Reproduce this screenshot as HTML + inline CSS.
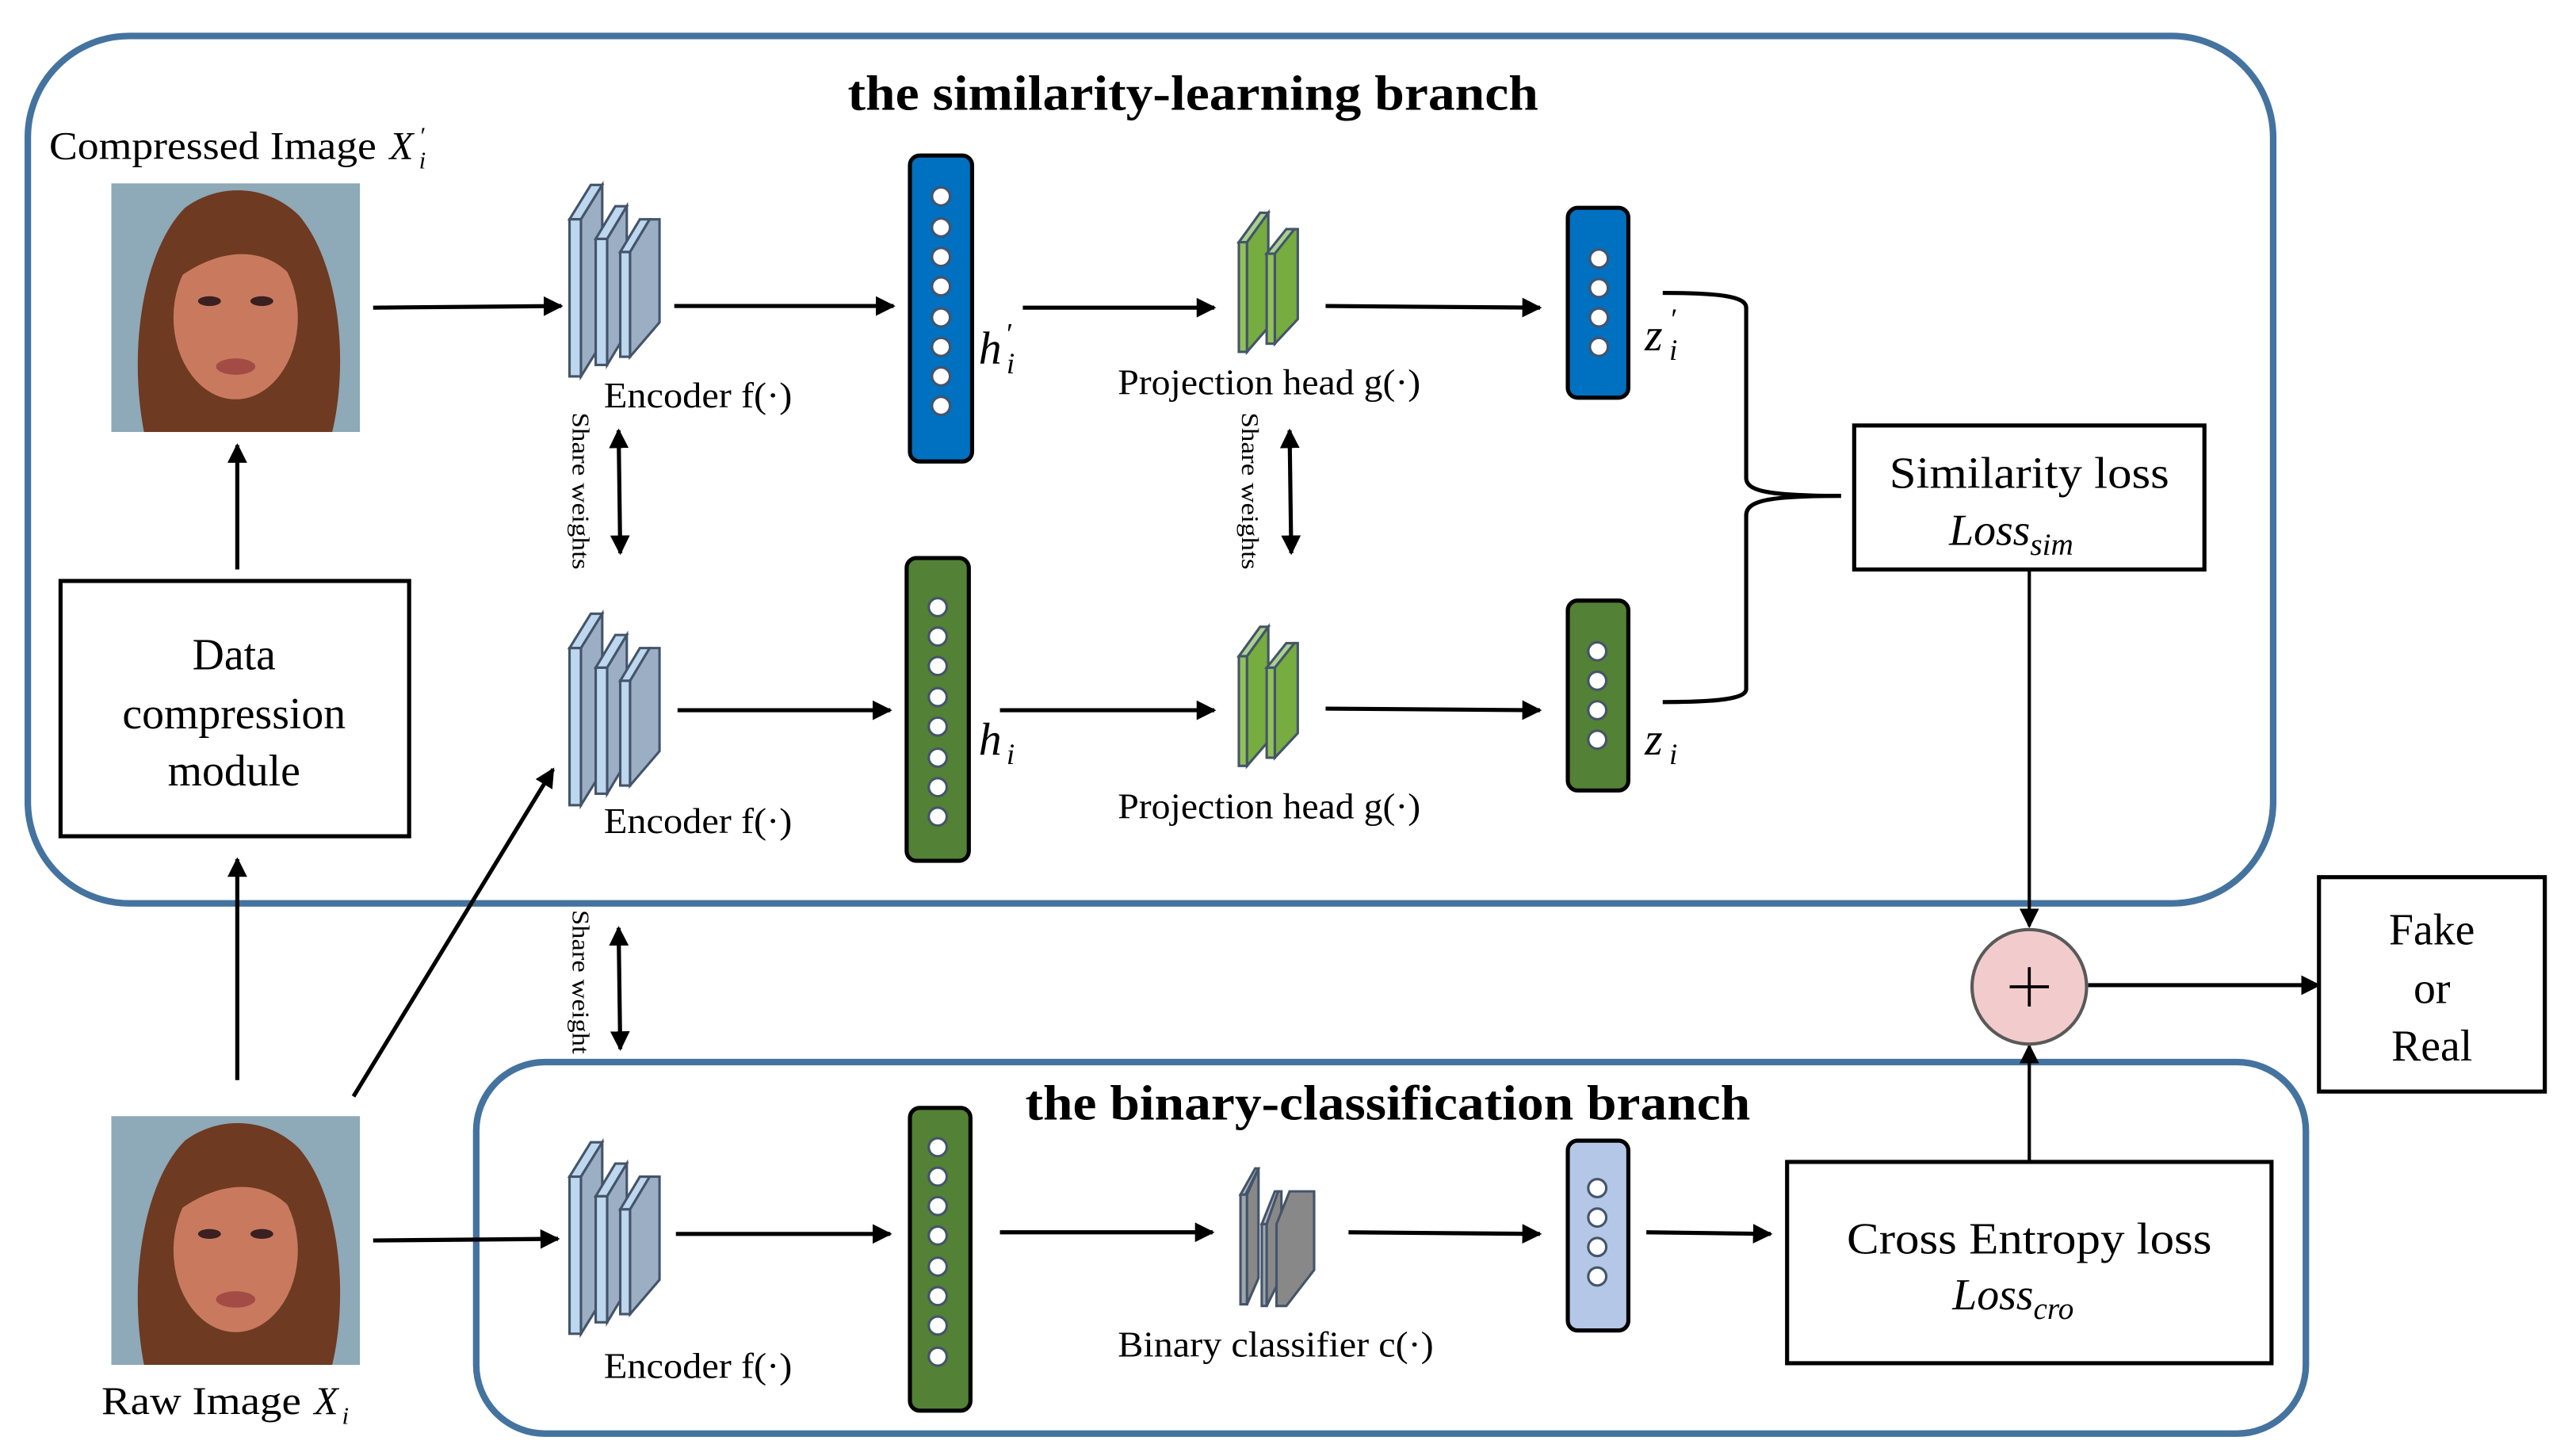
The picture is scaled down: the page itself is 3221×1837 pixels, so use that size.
<!DOCTYPE html>
<html><head><meta charset="utf-8"><style>html,body{margin:0;padding:0;background:#fff}svg{display:block}</style></head>
<body>
<svg xmlns="http://www.w3.org/2000/svg" width="3221" height="1837" viewBox="0 0 1560 889.7" font-family="Liberation Serif, serif">
<defs>
<marker id="ar" viewBox="0 0 10 10" refX="9" refY="5" markerWidth="5" markerHeight="5" orient="auto-start-reverse" markerUnits="userSpaceOnUse"><path d="M0,0 L10,5 L0,10 z" fill="#000"/></marker>
<marker id="a2" viewBox="0 0 10 10" refX="9" refY="5" markerWidth="12" markerHeight="12" orient="auto-start-reverse" markerUnits="userSpaceOnUse"><path d="M0,0 L10,5 L0,10 z" fill="#000"/></marker>
<symbol id="face" viewBox="0 0 152 152">
<rect width="152" height="152" fill="#8ea9b8"/>
<path d="M20,152 C10,100 20,40 45,15 C65,0 95,0 115,20 C140,50 145,110 135,152 Z" fill="#6e3a22"/>
<ellipse cx="76" cy="82" rx="38" ry="50" fill="#c97a5e"/>
<path d="M38,60 C40,25 70,18 90,22 C105,30 112,40 114,62 C100,40 70,35 38,60Z" fill="#6e3a22"/>
<ellipse cx="60" cy="72" rx="7" ry="3" fill="#3a2020"/><ellipse cx="92" cy="72" rx="7" ry="3" fill="#3a2020"/>
<ellipse cx="76" cy="112" rx="12" ry="5" fill="#a34b45"/>
</symbol>
</defs>
<g stroke="#44739f" stroke-width="4" fill="none">
<rect x="17" y="22" width="1372" height="530" rx="62"/>
<rect x="291" y="649" width="1118" height="227" rx="42"/>
</g>
<g font-weight="bold" font-size="30" text-anchor="middle">
<text x="729" y="67" textLength="422" lengthAdjust="spacingAndGlyphs">the similarity-learning branch</text>
<text x="848" y="684" textLength="443" lengthAdjust="spacingAndGlyphs">the binary-classification branch</text>
</g>
<use href="#face" x="68" y="112" width="152" height="152"/>
<use href="#face" x="68" y="682" width="152" height="152"/>
<g font-size="24">
<text x="30" y="97" textLength="200" lengthAdjust="spacingAndGlyphs">Compressed Image</text>
<text x="238" y="97" font-style="italic">X</text><text x="256" y="88" font-size="15" font-style="italic">′</text><text x="256" y="103" font-size="15" font-style="italic">i</text>
<text x="62" y="864" textLength="122" lengthAdjust="spacingAndGlyphs">Raw Image</text>
<text x="192" y="864" font-style="italic">X</text><text x="209" y="870" font-size="15" font-style="italic">i</text>
</g>
<g font-size="22">
<text x="369" y="249" textLength="115" lengthAdjust="spacingAndGlyphs">Encoder f(·)</text>
<text x="369" y="509" textLength="115" lengthAdjust="spacingAndGlyphs">Encoder f(·)</text>
<text x="369" y="842" textLength="115" lengthAdjust="spacingAndGlyphs">Encoder f(·)</text>
<text x="683" y="241" textLength="185" lengthAdjust="spacingAndGlyphs">Projection head g(·)</text>
<text x="683" y="500" textLength="185" lengthAdjust="spacingAndGlyphs">Projection head g(·)</text>
<text x="683" y="829" textLength="193" lengthAdjust="spacingAndGlyphs">Binary classifier c(·)</text>
</g>
<g font-size="15">
<text transform="translate(350,252) rotate(90)" textLength="96" lengthAdjust="spacingAndGlyphs">Share weights</text>
<text transform="translate(759,252) rotate(90)" textLength="96" lengthAdjust="spacingAndGlyphs">Share weights</text>
<text transform="translate(350,556) rotate(90)" textLength="88" lengthAdjust="spacingAndGlyphs">Share weight</text>
</g>
<g font-size="28" font-style="italic">
<text x="598" y="222">h</text><text x="614" y="210" font-size="18">′</text><text x="615" y="228" font-size="18">i</text>
<text x="598" y="461">h</text><text x="615" y="467" font-size="18">i</text>
<text x="1005" y="214">z</text><text x="1020" y="201" font-size="18">′</text><text x="1020" y="220" font-size="18">i</text>
<text x="1005" y="461">z</text><text x="1020" y="467" font-size="18">i</text>
</g>
<!-- encoders -->
<g stroke="#44546a" stroke-width="1.5">
<g id="enc">
<path d="M348,134 L361,113 L368,113 L355,134Z" fill="#bdd7ee"/><rect x="348" y="134" width="7" height="96" fill="#bdd7ee"/><path d="M355,134 L368,113 L368,209 L355,230Z" fill="#9caec4"/>
<path d="M364,146 L376,126 L383,126 L371,146Z" fill="#bdd7ee"/><rect x="364" y="146" width="7" height="77" fill="#bdd7ee"/><path d="M371,146 L383,126 L383,203 L371,223Z" fill="#9caec4"/>
<path d="M379,154 L391,134 L397,134 L385,154Z" fill="#bdd7ee"/><rect x="379" y="154" width="6" height="64" fill="#bdd7ee"/><path d="M385,154 L397,134 L403,134 L403,197 L385,218Z" fill="#9caec4"/>
</g>
<use href="#enc" y="262"/>
<use href="#enc" y="585"/>
<g id="proj">
<path d="M757,148 L770,130 L775,130 L762,148Z" fill="#a9d18e"/><rect x="757" y="148" width="5" height="67" fill="#92c15a"/><path d="M762,148 L775,130 L775,200 L762,215Z" fill="#76ac40"/>
<path d="M774,155 L786,140 L791,140 L779,155Z" fill="#a9d18e"/><rect x="774" y="155" width="5" height="55" fill="#92c15a"/><path d="M779,155 L791,140 L793,140 L793,195 L779,210Z" fill="#76ac40"/>
</g>
<use href="#proj" y="253"/>
<path d="M758,730 L767,714 L769,714 L761,730Z" fill="#aeb8c4"/><rect x="758" y="730" width="4" height="67" fill="#a0a6ae"/><path d="M762,730 L769,714 L769,781 L762,797Z" fill="#888"/>
<path d="M771,748 L779,728 L781,728 L774,748Z" fill="#aeb8c4"/><rect x="771" y="748" width="3" height="50" fill="#a0a6ae"/><path d="M774,748 L781,728 L783,728 L783,780 L774,798Z" fill="#888"/>
<path d="M780,748 L788,728 L803,728 L803,776 L786,798 L780,798Z" fill="#888"/>
</g>
<!-- bars -->
<g stroke="#000" stroke-width="2.5">
<rect x="556" y="95" width="38" height="187" rx="6" fill="#0070c0"/>
<rect x="554" y="341" width="38" height="185" rx="6" fill="#538135"/>
<rect x="556" y="677" width="37" height="185" rx="6" fill="#538135"/>
<rect x="958" y="127" width="37" height="116" rx="6" fill="#0070c0"/>
<rect x="958" y="367" width="37" height="116" rx="6" fill="#538135"/>
<rect x="958" y="697" width="37" height="116" rx="6" fill="#b4c7e7"/>
</g>
<g fill="#fff" stroke="#44546a" stroke-width="1.5">
<circle cx="575" cy="120" r="5.5"/><circle cx="575" cy="139" r="5.5"/><circle cx="575" cy="157" r="5.5"/><circle cx="575" cy="175" r="5.5"/><circle cx="575" cy="194" r="5.5"/><circle cx="575" cy="212" r="5.5"/><circle cx="575" cy="230" r="5.5"/><circle cx="575" cy="248" r="5.5"/>
<circle cx="573" cy="371" r="5.5"/><circle cx="573" cy="389" r="5.5"/><circle cx="573" cy="407" r="5.5"/><circle cx="573" cy="426" r="5.5"/><circle cx="573" cy="444" r="5.5"/><circle cx="573" cy="463" r="5.5"/><circle cx="573" cy="481" r="5.5"/><circle cx="573" cy="499" r="5.5"/>
<circle cx="573" cy="701" r="5.5"/><circle cx="573" cy="719" r="5.5"/><circle cx="573" cy="737" r="5.5"/><circle cx="573" cy="755" r="5.5"/><circle cx="573" cy="774" r="5.5"/><circle cx="573" cy="792" r="5.5"/><circle cx="573" cy="810" r="5.5"/><circle cx="573" cy="829" r="5.5"/>
<circle cx="977" cy="158" r="5.5"/><circle cx="977" cy="176" r="5.5"/><circle cx="977" cy="194" r="5.5"/><circle cx="977" cy="212" r="5.5"/>
<circle cx="976" cy="398" r="5.5"/><circle cx="976" cy="416" r="5.5"/><circle cx="976" cy="434" r="5.5"/><circle cx="976" cy="452" r="5.5"/>
<circle cx="976" cy="726" r="5.5"/><circle cx="976" cy="744" r="5.5"/><circle cx="976" cy="762" r="5.5"/><circle cx="976" cy="780" r="5.5"/>
</g>
<!-- arrows -->
<g stroke="#000" stroke-width="2.5" fill="none" marker-end="url(#a2)">
<line x1="228" y1="188" x2="343" y2="187"/><line x1="412" y1="187" x2="546" y2="187"/><line x1="625" y1="188" x2="742" y2="188"/><line x1="810" y1="187" x2="941" y2="188"/>
<line x1="414" y1="434" x2="544" y2="434"/><line x1="611" y1="434" x2="742" y2="434"/><line x1="810" y1="433" x2="941" y2="434"/>
<line x1="413" y1="754" x2="544" y2="754"/><line x1="611" y1="753" x2="741" y2="753"/><line x1="824" y1="753" x2="941" y2="754"/><line x1="1006" y1="753" x2="1082" y2="754"/>
<line x1="228" y1="758" x2="341" y2="757"/><line x1="216" y1="670" x2="338" y2="470"/>
<line x1="145" y1="348" x2="145" y2="272"/><line x1="145" y1="660" x2="145" y2="525"/>
<line x1="1276" y1="602" x2="1417" y2="602"/>
</g>
<g stroke="#000" stroke-width="2" fill="none" marker-end="url(#a2)">
<line x1="1240" y1="348" x2="1240" y2="566"/><line x1="1240" y1="710" x2="1240" y2="639"/>
</g>
<g stroke="#000" stroke-width="2.5" marker-start="url(#a2)" marker-end="url(#a2)">
<line x1="378" y1="263" x2="379" y2="338"/><line x1="788" y1="263" x2="789" y2="338"/><line x1="378" y1="567" x2="379" y2="641"/>
</g>
<!-- brace -->
<path d="M1016,179 C1050,179 1067,181 1067,188 L1067,292 C1067,300 1080,303 1125,303 M1125,303 C1080,303 1067,306 1067,315 L1067,421 C1067,427 1050,429 1016,429" stroke="#000" stroke-width="2.5" fill="none"/>
<!-- boxes -->
<g stroke="#000" stroke-width="2.5" fill="#fff">
<rect x="37" y="355" width="213" height="156"/>
<rect x="1133" y="260" width="214" height="88"/>
<rect x="1092" y="710" width="296" height="123"/>
<rect x="1417" y="536" width="138" height="131"/>
</g>
<circle cx="1240" cy="603" r="35" fill="#f2cccc" stroke="#595959" stroke-width="2"/>
<path d="M1228,603 H1252 M1240,591 V615" stroke="#000" stroke-width="1.8"/>
<g font-size="27" text-anchor="middle">
<text x="143" y="409">Data</text><text x="143" y="445">compression</text><text x="143" y="480">module</text>
<text x="1240" y="298" textLength="171" lengthAdjust="spacingAndGlyphs">Similarity loss</text>
<text x="1240" y="766" textLength="223" lengthAdjust="spacingAndGlyphs">Cross Entropy loss</text>
<text x="1486" y="577">Fake</text><text x="1486" y="613">or</text><text x="1486" y="648">Real</text>
</g>
<g font-size="27" font-style="italic">
<text x="1191" y="333">Loss<tspan font-size="19" dy="6">sim</tspan></text>
<text x="1193" y="800">Loss<tspan font-size="19" dy="6">cro</tspan></text>
</g>
</svg>
</body></html>
